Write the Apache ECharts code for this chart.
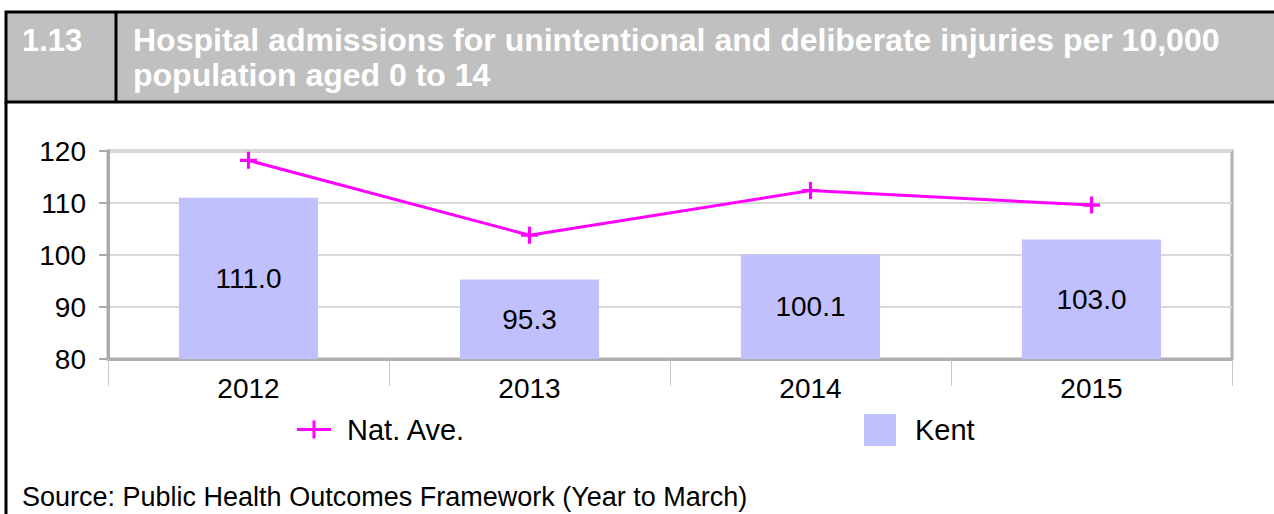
<!DOCTYPE html>
<html>
<head>
<meta charset="utf-8">
<script src="https://cdn.jsdelivr.net/npm/echarts@6/dist/echarts.min.js"></script>
<style>
html,body{margin:0;padding:0;background:#fff;}
#chart{width:1274px;height:514px;}
</style>
</head>
<body>
<div id="chart"></div>
<script>
const sectionNumber = '1.13';
const titleLines = ['Hospital admissions for unintentional and deliberate injuries per 10,000', 'population aged 0 to 14'];
const sourceText = 'Source: Public Health Outcomes Framework (Year to March)';
const categories = ['2012', '2013', '2014', '2015'];
const kentValues = [111.0, 95.3, 100.1, 103.0];
const natAveValues = [118.2, 103.8, 112.4, 109.6];
const yMin = 80, yMax = 120, yInterval = 10;
const seriesNames = ['Nat. Ave.', 'Kent'];

const FONT = '"Liberation Sans", Arial, sans-serif';
const plusPath = 'path://M6.5,0h3v16h-3z M0,6.5h16v3h-16z';

const chart = echarts.init(document.getElementById('chart'), null, {renderer: 'svg'});
chart.setOption({
  animation: false,
  backgroundColor: '#ffffff',
  textStyle: {fontFamily: FONT},
  grid: {
    left: 108, right: 42, top: 151, bottom: 155,
    show: true, borderColor: '#b0b0b0', borderWidth: 3
  },
  xAxis: {
    type: 'category',
    data: categories,
    boundaryGap: true,
    axisLine: {show: true, lineStyle: {color: '#b0b0b0', width: 3}},
    axisTick: {show: true, length: 27, lineStyle: {color: '#c8c8c8', width: 1}},
    axisLabel: {fontSize: 28, color: '#000', margin: 15, fontFamily: FONT},
    splitLine: {show: false}
  },
  yAxis: {
    type: 'value',
    min: yMin, max: yMax, interval: yInterval,
    axisLine: {show: true, lineStyle: {color: '#aaaaaa', width: 3}},
    axisTick: {show: true, length: 9, lineStyle: {color: '#aaaaaa', width: 2}},
    axisLabel: {fontSize: 28, color: '#000', margin: 22, fontFamily: FONT},
    splitLine: {show: true, lineStyle: {color: '#d9d9d9', width: 2}}
  },
  legend: [
    {
      left: 297, top: 415, padding: 0,
      itemWidth: 34, itemHeight: 18,
      data: [{name: seriesNames[0], icon: 'path://M15.5,0h3v18h-3z M0,7.5h34v3h-34z'}],
      textStyle: {fontSize: 29, color: '#000', fontFamily: FONT, padding: [0, 0, 0, 11]}
    },
    {
      left: 864, top: 414, padding: 0,
      itemWidth: 32, itemHeight: 32,
      data: [{name: seriesNames[1], icon: 'rect'}],
      textStyle: {fontSize: 29, color: '#000', fontFamily: FONT, padding: [0, 0, 0, 14]}
    }
  ],
  series: [
    {
      name: seriesNames[1],
      type: 'bar',
      data: kentValues,
      barWidth: '49.5%',
      itemStyle: {color: '#c0c0ff'},
      label: {
        show: true, position: 'inside', fontSize: 28, color: '#000', fontFamily: FONT,
        formatter: p => p.value.toFixed(1)
      },
      z: 2
    },
    {
      name: seriesNames[0],
      type: 'line',
      data: natAveValues,
      symbol: plusPath,
      symbolSize: 17,
      itemStyle: {color: '#ff00ff'},
      lineStyle: {color: '#ff00ff', width: 3},
      z: 3
    }
  ],
  graphic: [
    {type: 'rect', shape: {x: 6, y: 12, width: 1300, height: 90}, style: {fill: '#c0c0c0', stroke: '#000', lineWidth: 3}, z: 0},
    {type: 'line', shape: {x1: 116, y1: 12, x2: 116, y2: 102}, style: {stroke: '#000', lineWidth: 3}},
    {type: 'line', shape: {x1: 6, y1: 102, x2: 6, y2: 520}, style: {stroke: '#000', lineWidth: 3}},
    {type: 'text', x: 22, y: 40, style: {text: sectionNumber, fill: '#fff', font: 'bold 31px ' + FONT, verticalAlign: 'middle'}},
    {type: 'text', x: 133, y: 22, style: {text: titleLines.join('\n'), fill: '#fff', font: 'bold 32px ' + FONT, lineHeight: 35, verticalAlign: 'top'}},
    {type: 'text', x: 22, y: 497, style: {text: sourceText, fill: '#000', font: '27px ' + FONT, verticalAlign: 'middle'}}
  ]
});
</script>
</body>
</html>
